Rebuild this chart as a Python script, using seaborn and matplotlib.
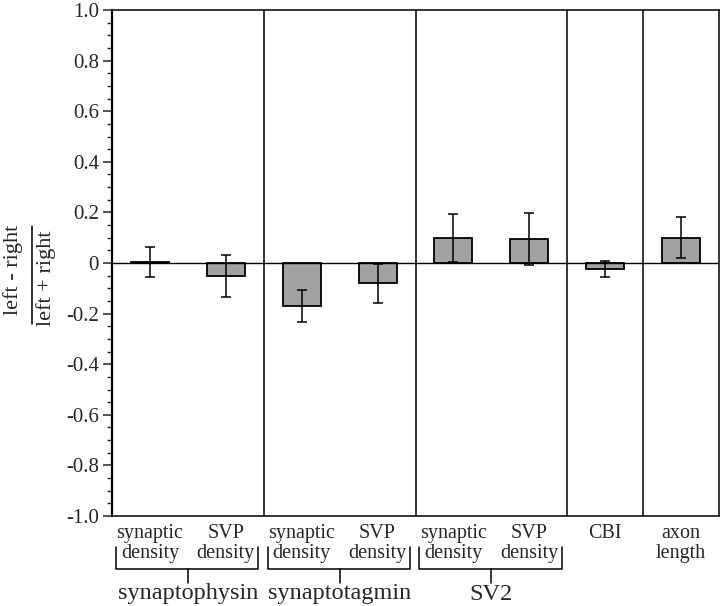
import numpy as np
import pandas as pd
import matplotlib
matplotlib.use("Agg")
import matplotlib.pyplot as plt
import matplotlib.transforms as mtransforms
from matplotlib.ticker import MultipleLocator, FixedLocator, FixedFormatter
from matplotlib.lines import Line2D
import seaborn as sns

# ---- data ----
categories = ["synaptic\ndensity", "SVP\ndensity",
              "synaptic\ndensity", "SVP\ndensity",
              "synaptic\ndensity", "SVP\ndensity",
              "CBI", "axon\nlength"]
groups = ["synaptophysin", "synaptophysin",
          "synaptotagmin", "synaptotagmin",
          "SV2", "SV2", "CBI", "axon length"]
values = [0.005, -0.05, -0.17, -0.08, 0.10, 0.096, -0.025, 0.10]
errors = [0.06, 0.083, 0.065, 0.077, 0.095, 0.102, 0.031, 0.081]
bracket_groups = ["synaptophysin", "synaptotagmin", "SV2"]
ytick_values = [-1.0, -0.8, -0.6, -0.4, -0.2, 0.0, 0.2, 0.4, 0.6, 0.8, 1.0]
ytick_labels = ["-1.0", "-0.8", "-0.6", "-0.4", "-0.2", "0",
                "0.2", "0.4", "0.6", "0.8", "1.0"]
ylabel_num = "left - right"
ylabel_den = "left + right"

sns.set_style("white")
plt.rcParams["font.family"] = ["Liberation Serif", "DejaVu Serif"]

keys = [f"{g}|{c}|{i}" for i, (g, c) in enumerate(zip(groups, categories))]
df = pd.DataFrame({"key": keys, "value": values, "err": errors})

W, H = 720, 606
fig = plt.figure(figsize=(W / 100, H / 100), dpi=100)
ax = fig.add_axes([112 / W, 1 - 516 / H, 607 / W, 506 / H])

sns.barplot(data=df, x="key", y="value", order=keys, color="#a2a2a2",
            saturation=1, width=0.5, edgecolor="black", linewidth=1.3,
            errorbar=None, ax=ax)
xpos = np.arange(len(keys))
ax.errorbar(xpos, df["value"], yerr=df["err"], fmt="none", ecolor="black",
            elinewidth=1.1, capsize=3.6, capthick=1.1, zorder=5)

ax.set_xlim(-0.5, len(keys) - 0.5)
ax.set_ylim(-1.0, 1.0)
ax.axhline(0, color="black", lw=1.0, zorder=4)

# group separators
for i in range(len(groups) - 1):
    if groups[i] != groups[i + 1]:
        ax.axvline(i + 0.5, color="black", lw=1.1, zorder=4)

# frame
for s in ax.spines.values():
    s.set_visible(True)
    s.set_color("black")
    s.set_linewidth(1.1)
ax.spines["left"].set_linewidth(1.6)

# y ticks
ax.yaxis.set_major_locator(FixedLocator(ytick_values))
ax.yaxis.set_major_formatter(FixedFormatter(ytick_labels))
ax.yaxis.set_minor_locator(MultipleLocator(0.05))
ax.tick_params(axis="y", which="major", direction="out", length=6.3, width=1.1,
               labelsize=15, pad=3, left=True, right=False)
ax.tick_params(axis="y", which="minor", direction="out", length=3.4, width=1.0,
               left=True, right=False)

# x tick labels
ax.set_xticks(xpos)
ax.set_xticklabels(categories, fontsize=14.5, linespacing=1.02, va="top")
ax.tick_params(axis="x", length=0, pad=6)
ax.set_xlabel("")
ax.set_ylabel("")

# brackets
trans = mtransforms.blended_transform_factory(ax.transData, fig.transFigure)
fy = lambda p: 1 - p / H
for g in bracket_groups:
    idx = [i for i, gg in enumerate(groups) if gg == g]
    x0, x1 = min(idx) - 0.45, max(idx) + 0.43
    xc = float(np.mean(idx))
    line = Line2D([x0, x0, x1, x1], [fy(547), fy(569), fy(569), fy(547)],
                  transform=trans, color="black", lw=1.1, clip_on=False)
    fig.add_artist(line)
    tick = Line2D([xc, xc], [fy(569), fy(583)], transform=trans,
                  color="black", lw=1.1, clip_on=False)
    fig.add_artist(tick)
    fig.text(xc, fy(594), g, transform=trans, ha="center", va="center",
             fontsize=17.5)

# y label as a fraction
fig.text(13 / W, fy(270), ylabel_num, rotation=90, ha="center", va="center",
         fontsize=16)
fig.text(46 / W, fy(278), ylabel_den, rotation=90, ha="center", va="center",
         fontsize=16)
fig.add_artist(Line2D([32 / W, 32 / W], [fy(226), fy(324)],
                      transform=fig.transFigure, color="black", lw=1.1))

fig.savefig("out.png", dpi=100)
